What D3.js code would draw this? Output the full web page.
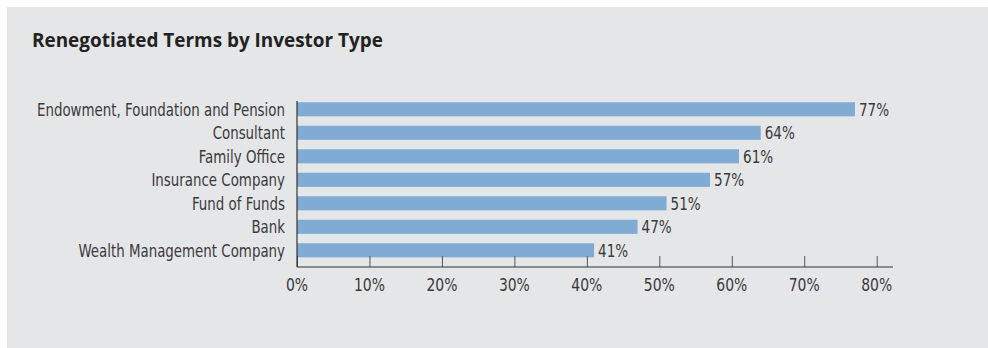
<!DOCTYPE html>
<html>
<head>
<meta charset="utf-8">
<script src="https://cdn.jsdelivr.net/npm/d3@7"></script>
<style>
  body { margin: 0; background: #fff; }
  svg { display: block; }
  .lbl { font-family: "DejaVu Sans Condensed", "DejaVu Sans", sans-serif; font-stretch: condensed; fill: #3a3a3a; }
</style>
</head>
<body>
<svg id="chart" width="988" height="348"></svg>
<script>
// data
var categories = ["Endowment, Foundation and Pension", "Consultant", "Family Office",
                  "Insurance Company", "Fund of Funds", "Bank", "Wealth Management Company"];
var values = [77, 64, 61, 57, 51, 47, 41];
var tickValues = [0, 10, 20, 30, 40, 50, 60, 70, 80];

var svg = d3.select("#chart");

// squeeze a text horizontally, the original font is narrower than what we have
function squeeze(sel, k){
  sel.each(function(){
    var w = this.getComputedTextLength();
    d3.select(this).attr("textLength", w * k).attr("lengthAdjust", "spacingAndGlyphs");
  });
}

// grey panel
svg.append("rect")
  .attr("x", 7).attr("y", 7)
  .attr("width", 981).attr("height", 341)
  .attr("fill", "#e5e6e8");

svg.append("text")
  .attr("x", 32).attr("y", 47)
  .attr("font-family", "'Open Sans', sans-serif")
  .attr("font-weight", "bold")
  .attr("font-size", 19.5)
  .attr("fill", "#222")
  .text("Renegotiated Terms by Investor Type")
  .call(squeeze, 0.97);

var x = d3.scaleLinear().domain([0, 80]).range([297, 876.7]);
var y = d3.scaleBand().domain(categories)
  .range([95.2, 264.4]).paddingInner(0.4).paddingOuter(0.3);

var axisY = 267;

// bars
svg.selectAll(".bar").data(values).enter().append("rect")
  .attr("class", "bar")
  .attr("x", x(0))
  .attr("y", function(d, i){ return y(categories[i]); })
  .attr("width", function(d){ return x(d) - x(0); })
  .attr("height", y.bandwidth())
  .attr("fill", "#80acd4");

// value labels
svg.selectAll(".val").data(values).enter().append("text")
  .attr("class", "lbl val")
  .attr("x", function(d){ return x(d) + 4; })
  .attr("y", function(d, i){ return y(categories[i]) + y.bandwidth()/2; })
  .attr("dy", "0.38em")
  .attr("font-size", 17.5)
  .text(function(d){ return d + "%"; })
  .call(squeeze, 0.86);

// category labels
svg.selectAll(".cat").data(categories).enter().append("text")
  .attr("class", "lbl cat")
  .attr("x", 285)
  .attr("y", function(d){ return y(d) + y.bandwidth()/2; })
  .attr("dy", "0.38em")
  .attr("text-anchor", "end")
  .attr("font-size", 17.5)
  .text(function(d){ return d; })
  .call(squeeze, 0.85);

// x axis, ticks point up into the plot
var xAxis = d3.axisTop(x).tickValues(tickValues).tickSize(11).tickFormat("");
var gx = svg.append("g").attr("transform", "translate(0," + axisY + ")").call(xAxis);
gx.select(".domain").remove();
gx.selectAll(".tick line").attr("stroke", "#555").attr("stroke-width", 1);

svg.append("line")
  .attr("x1", x(0)).attr("x2", 893)
  .attr("y1", axisY).attr("y2", axisY)
  .attr("stroke", "#333").attr("stroke-width", 1.2);

svg.append("line")
  .attr("x1", x(0)).attr("x2", x(0))
  .attr("y1", 101).attr("y2", axisY)
  .attr("stroke", "#333").attr("stroke-width", 1.2);

svg.selectAll(".tl").data(tickValues).enter().append("text")
  .attr("class", "lbl tl")
  .attr("x", function(d){ return x(d); })
  .attr("y", 291)
  .attr("text-anchor", "middle")
  .attr("font-size", 18)
  .text(function(d){ return d + "%"; })
  .call(squeeze, 0.86);
</script>
</body>
</html>
